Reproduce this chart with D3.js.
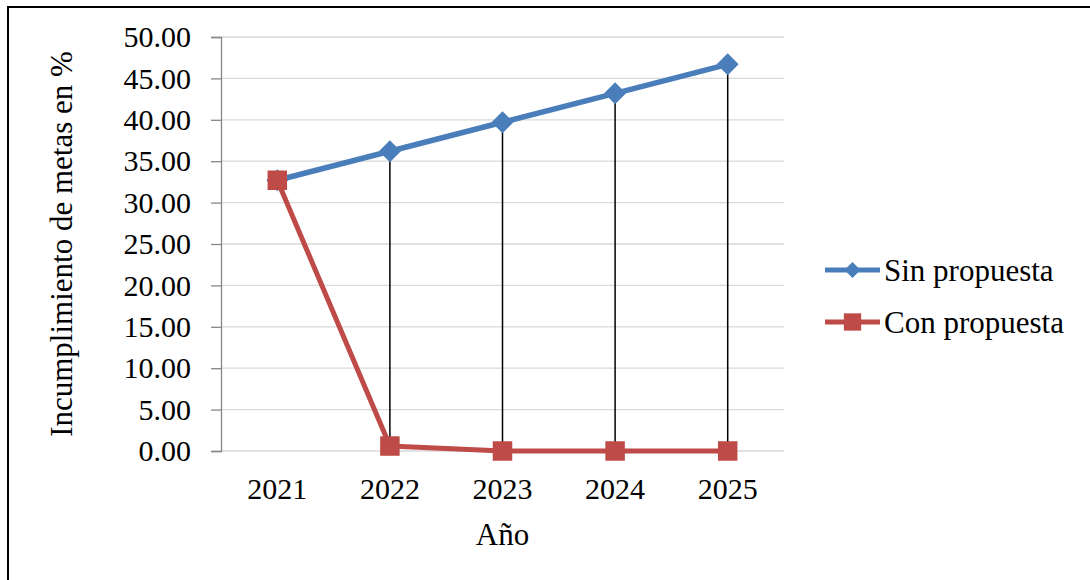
<!DOCTYPE html>
<html>
<head>
<meta charset="utf-8">
<script src="https://cdn.jsdelivr.net/npm/d3@7"></script>
<style>
  html, body { margin: 0; padding: 0; background: #fff; }
  svg { display: block; }
</style>
</head>
<body>
<svg id="chart" width="1090" height="580"></svg>
<script>
// Años y valores de incumplimiento (%)
const years = ["2021", "2022", "2023", "2024", "2025"];
const sinPropuesta = [32.7, 36.2, 39.7, 43.2, 46.7];
const conPropuesta = [32.7, 0.6, 0.0, 0.0, 0.0];
const yTicks = [0, 5, 10, 15, 20, 25, 30, 35, 40, 45, 50];
const seriesNames = ["Sin propuesta", "Con propuesta"];

const FONT = '"Liberation Serif", "Times New Roman", serif';
const svg = d3.select("#chart");

// Marco del gráfico
svg.append("rect")
  .attr("x", 8).attr("y", 7)
  .attr("width", 1100).attr("height", 600)
  .attr("fill", "none").attr("stroke", "#000").attr("stroke-width", 2);

const plot = { left: 221, right: 784, top: 37, bottom: 451 };

const x = d3.scaleBand().domain(years).range([plot.left, plot.right]);
const xc = d => x(d) + x.bandwidth() / 2;
const y = d3.scaleLinear().domain([0, 50]).range([plot.bottom, plot.top]);

// Líneas de cuadrícula
svg.append("g").selectAll("line").data(yTicks).join("line")
  .attr("x1", plot.left).attr("x2", plot.right)
  .attr("y1", d => y(d)).attr("y2", d => y(d))
  .attr("stroke", "#d9d9d9").attr("stroke-width", 1.3);

// Eje Y
const yAxis = svg.append("g")
  .attr("transform", `translate(${plot.left},0)`)
  .call(d3.axisLeft(y).tickValues(yTicks).tickFormat(d3.format(".2f")).tickSize(10).tickPadding(20));
yAxis.attr("font-size", 30).attr("font-family", FONT);
yAxis.select(".domain").attr("stroke", "#868686").attr("stroke-width", 1.3);
yAxis.selectAll(".tick line").attr("stroke", "#868686").attr("stroke-width", 1.3);
yAxis.selectAll(".tick text")
  .style("font-family", FONT).style("font-size", "30px").attr("fill", "#000");

// Eje X (solo etiquetas)
const xAxis = svg.append("g")
  .attr("transform", `translate(0,${plot.bottom})`)
  .call(d3.axisBottom(x).tickSize(0).tickPadding(27));
xAxis.attr("font-size", 30).attr("font-family", FONT);
xAxis.select(".domain").remove();
xAxis.selectAll(".tick text")
  .style("font-family", FONT).style("font-size", "30px").attr("fill", "#000");

// Títulos de ejes
svg.append("text")
  .attr("transform", `translate(72,${(plot.top + plot.bottom) / 2}) rotate(-90)`)
  .attr("text-anchor", "middle")
  .style("font-family", FONT).style("font-size", "31px")
  .text("Incumplimiento de metas en %");
svg.append("text")
  .attr("x", (plot.left + plot.right) / 2).attr("y", 545)
  .attr("text-anchor", "middle")
  .style("font-family", FONT).style("font-size", "31px")
  .text("Año");

// Líneas máximo-mínimo entre ambas series
svg.append("g").selectAll("line").data(years).join("line")
  .attr("x1", d => xc(d)).attr("x2", d => xc(d))
  .attr("y1", (d, i) => y(Math.max(sinPropuesta[i], conPropuesta[i])))
  .attr("y2", (d, i) => y(Math.min(sinPropuesta[i], conPropuesta[i])))
  .attr("stroke", "#000").attr("stroke-width", 1.5);

const colors = ["#4a7ebb", "#be4b48"];
const line = d3.line().x((d, i) => xc(years[i])).y(d => y(d));

const diamond = d3.symbol().type(d3.symbolSquare).size(240);
const square = d3.symbol().type(d3.symbolSquare).size(380);

// Serie: Sin propuesta
svg.append("path").datum(sinPropuesta)
  .attr("d", line).attr("fill", "none")
  .attr("stroke", colors[0]).attr("stroke-width", 5.5).attr("stroke-linejoin", "round");
svg.append("g").selectAll("path").data(sinPropuesta).join("path")
  .attr("d", diamond)
  .attr("transform", (d, i) => `translate(${xc(years[i])},${y(d)}) rotate(45)`)
  .attr("fill", colors[0]);

// Serie: Con propuesta
svg.append("path").datum(conPropuesta)
  .attr("d", line).attr("fill", "none")
  .attr("stroke", colors[1]).attr("stroke-width", 5).attr("stroke-linejoin", "round");
svg.append("g").selectAll("path").data(conPropuesta).join("path")
  .attr("d", square)
  .attr("transform", (d, i) => `translate(${xc(years[i])},${y(d)})`)
  .attr("fill", colors[1]);

// Leyenda
const legend = svg.append("g");
const legendY = [270, 322];
const legendDiamond = d3.symbol().type(d3.symbolSquare).size(130);
const legendSquare = d3.symbol().type(d3.symbolSquare).size(300);
seriesNames.forEach((name, i) => {
  const g = legend.append("g").attr("transform", `translate(0,${legendY[i]})`);
  g.append("line").attr("x1", 825).attr("x2", 880).attr("y1", 0).attr("y2", 0)
    .attr("stroke", colors[i]).attr("stroke-width", 5);
  g.append("path")
    .attr("d", i === 0 ? legendDiamond : legendSquare)
    .attr("transform", `translate(852.5,0)${i === 0 ? " rotate(45)" : ""}`)
    .attr("fill", colors[i]);
  g.append("text").attr("x", 884).attr("y", 11)
    .style("font-family", FONT).style("font-size", "31px")
    .text(name);
});
</script>
</body>
</html>
